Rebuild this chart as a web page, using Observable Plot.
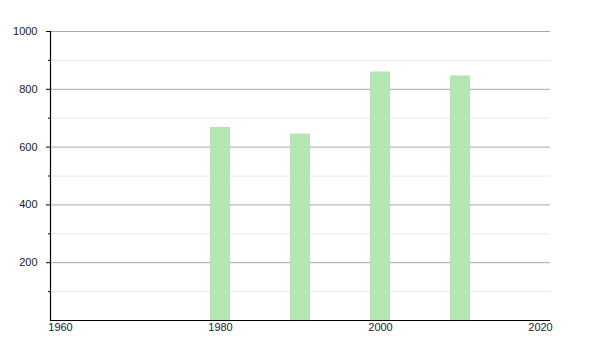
<!DOCTYPE html>
<html>
<head>
<meta charset="utf-8">
<script src="https://cdn.jsdelivr.net/npm/d3@7"></script>
<script src="https://cdn.jsdelivr.net/npm/@observablehq/plot@0.6"></script>
<style>
  html, body { margin: 0; padding: 0; background: #fff; }
</style>
</head>
<body>
<div id="chart"></div>
<script>
const years = [1980, 1990, 2000, 2010];
const values = [668, 645, 860, 846];
const xTicks = [1960, 1980, 2000, 2020];
const yMajorTicks = [200, 400, 600, 800, 1000];
const yMinorTicks = [100, 300, 500, 700, 900];
const barHalfWidthYears = 1.25;

const data = years.map((year, i) => ({year, value: values[i]}));

const chart = Plot.plot({
  width: 600,
  height: 350,
  marginTop: 31,
  marginBottom: 30,
  marginLeft: 50,
  marginRight: 50,
  x: {domain: [1960, 2020], inset: 10},
  y: {domain: [0, 1000]},
  style: {fontFamily: "'Liberation Sans', Arial, sans-serif", fontSize: "11px", color: "#222", background: "#fff"},
  marks: [
    Plot.gridY(yMinorTicks, {stroke: "#e8e8e8", strokeOpacity: 1}),
    Plot.gridY(yMajorTicks, {stroke: "#aaaaaa", strokeOpacity: 1}),
    Plot.rectY(data, {
      x1: d => d.year - barHalfWidthYears,
      x2: d => d.year + barHalfWidthYears,
      y: "value",
      fill: "#b3e6b3"
    }),
    Plot.axisY(yMajorTicks, {tickSize: 4, tickPadding: 9, label: null, stroke: "#000", tickFormat: d => String(d)}),
    Plot.axisY(yMinorTicks, {tickSize: 2, tickFormat: () => "", label: null, stroke: "#000"}),
    Plot.axisX(xTicks, {tickSize: 0, tickPadding: 3, label: null, tickFormat: d => String(d)}),
    Plot.frame({anchor: "left", stroke: "#000", strokeWidth: 1.2}),
    Plot.ruleY([0], {stroke: "#000", strokeWidth: 1.2})
  ]
});
document.getElementById("chart").appendChild(chart);
</script>
</body>
</html>
